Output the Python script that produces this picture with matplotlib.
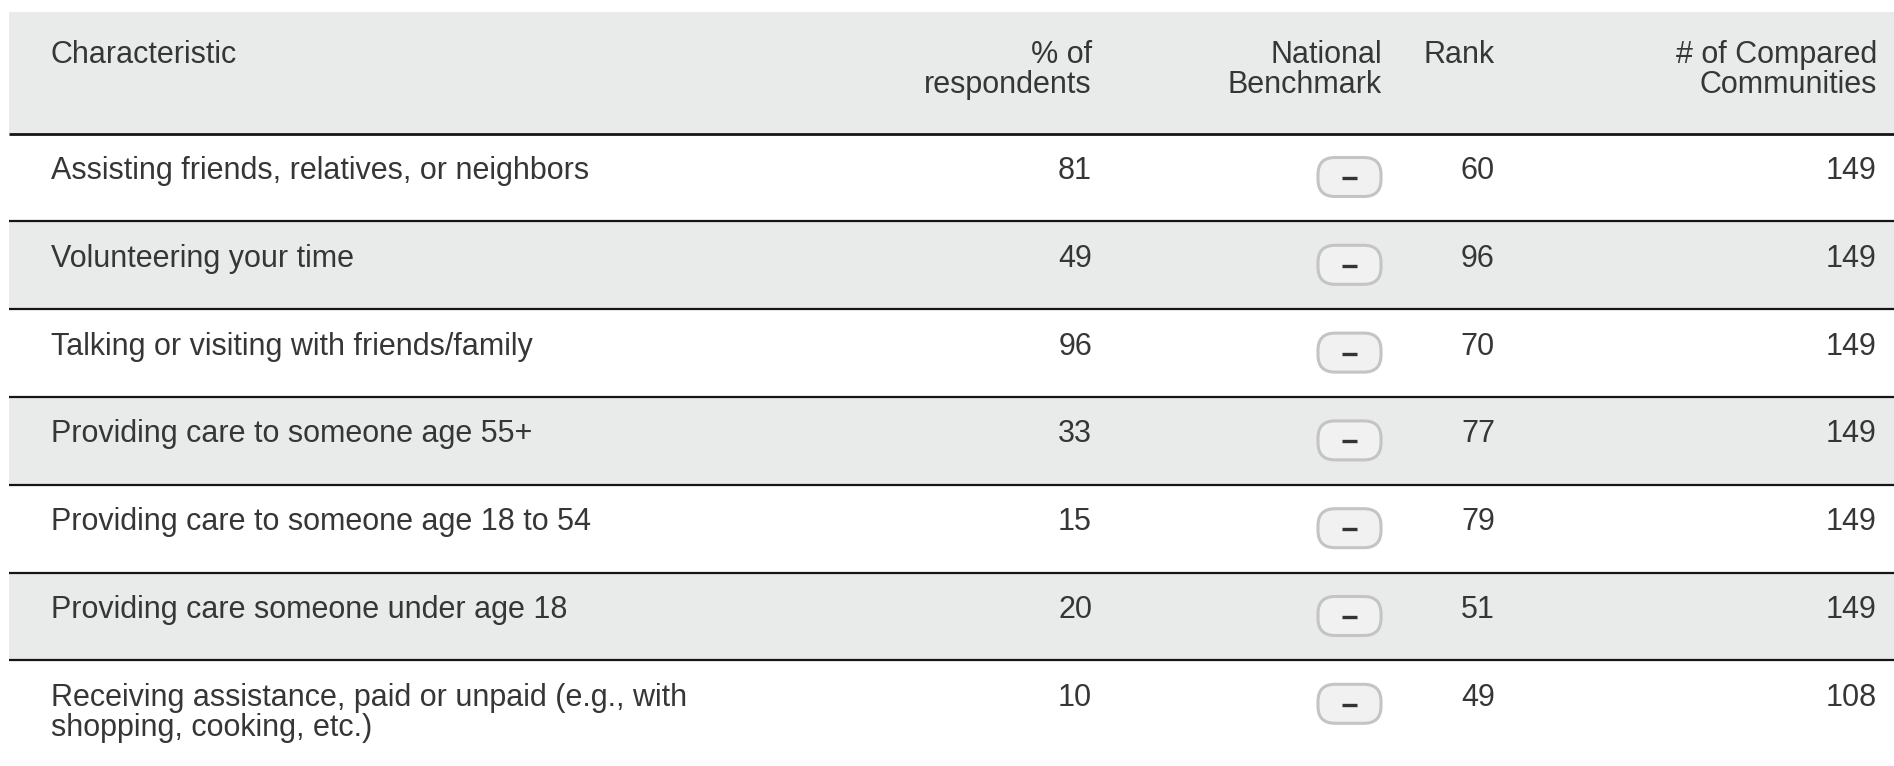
"""Table of community engagement characteristics, drawn with matplotlib."""

import matplotlib

matplotlib.use("Agg")
import matplotlib.pyplot as plt  # noqa: E402
from matplotlib.patches import FancyBboxPatch, Rectangle  # noqa: E402

# data
characteristics = [
    "Assisting friends, relatives, or neighbors",
    "Volunteering your time",
    "Talking or visiting with friends/family",
    "Providing care to someone age 55+",
    "Providing care to someone age 18 to 54",
    "Providing care someone under age 18",
    "Receiving assistance, paid or unpaid (e.g., with\nshopping, cooking, etc.)",
]
pct_respondents = [81, 49, 96, 33, 15, 20, 10]
benchmark = ["similar"] * 7
rank = [60, 96, 70, 77, 79, 51, 49]
n_compared = [149, 149, 149, 149, 149, 149, 108]

headers = ["Characteristic", "% of\nrespondents", "National\nBenchmark", "Rank",
           "# of Compared\nCommunities"]

W, H = 1894, 766
TEXT = "#363636"
BAND = "#e9eaea"
FONT = "Liberation Sans"
FS = 22
LINE_STEP = 30  # px between baselines of wrapped lines

fig = plt.figure(figsize=(W / 100, H / 100), dpi=100)
ax = fig.add_axes([0, 0, 1, 1])
ax.set_xlim(0, W)
ax.set_ylim(H, 0)
ax.axis("off")

left = 9
head_top, head_bot = 12, 133.5
row_h = 87.8


def put(x, y, s, ha):
    # each wrapped line drawn on its own baseline
    for k, line in enumerate(str(s).split("\n")):
        ax.text(x, y + k * LINE_STEP, line, ha=ha, va="baseline",
                fontsize=FS, family=FONT, color=TEXT, zorder=6)


# header
ax.add_patch(Rectangle((left, head_top), W - left, head_bot - head_top,
                       color=BAND, lw=0, zorder=0))
hx = [51, 1092, 1382, 1495, 1877]
ha = ["left", "right", "right", "right", "right"]
for x, a, txt in zip(hx, ha, headers):
    put(x, 63, txt, a)
ax.plot([left, W], [head_bot, head_bot], color="#151515", lw=2.0,
        solid_capstyle="butt", zorder=3)

for i, name in enumerate(characteristics):
    top = head_bot + i * row_h
    bottom = top + row_h if i < len(characteristics) - 1 else H
    if i % 2 == 1:
        ax.add_patch(Rectangle((left, top), W - left, bottom - top,
                               color=BAND, lw=0, zorder=0))
    if i > 0:
        ax.plot([left, W], [top, top], color="#151515", lw=1.6,
                solid_capstyle="butt", zorder=3)
    ty = top + 45.5
    put(51, ty, name, "left")
    put(1092, ty, pct_respondents[i], "right")
    put(1495, ty, rank[i], "right")
    put(1877, ty, n_compared[i], "right")
    # benchmark pill
    cx, cy = 1349.5, top + 43.5
    pw, ph, r = 63, 39, 17
    ax.add_patch(FancyBboxPatch((cx - pw / 2 + r, cy - ph / 2 + r),
                                pw - 2 * r, ph - 2 * r,
                                boxstyle=f"round,pad={r}",
                                facecolor="#f1f1f1", edgecolor="#c4c4c4",
                                lw=2.2, zorder=4))
    if benchmark[i] == "similar":
        ax.plot([cx - 7.5, cx + 7.5], [cy + 1, cy + 1], color="#333333",
                lw=2.4, solid_capstyle="butt", zorder=5)

fig.savefig("out.png", dpi=100)
